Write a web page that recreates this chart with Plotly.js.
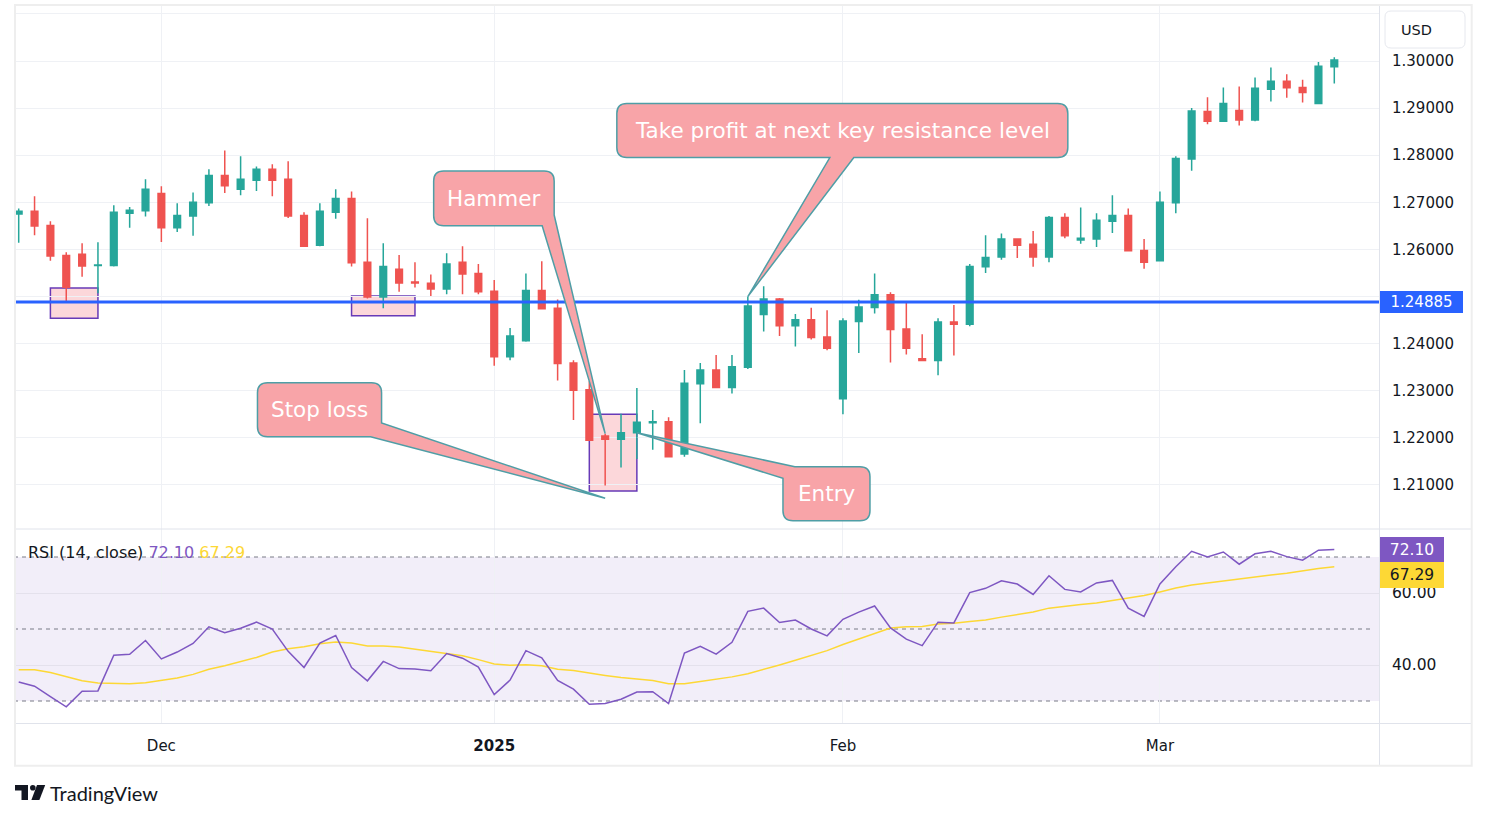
<!DOCTYPE html>
<html><head><meta charset="utf-8">
<script src="https://cdn.plot.ly/plotly-3.0.1.min.js"></script>
<style>html,body{margin:0;padding:0;background:#fff;overflow:hidden}#chart{width:1487px;height:819px}</style>
</head><body><div id="chart"></div>
<script>
// ---------------- DATA ----------------
const dates = [
 '2024-11-19','2024-11-20','2024-11-21','2024-11-22','2024-11-25','2024-11-26','2024-11-27','2024-11-28','2024-11-29',
 '2024-12-02','2024-12-03','2024-12-04','2024-12-05','2024-12-06','2024-12-09','2024-12-10','2024-12-11','2024-12-12','2024-12-13',
 '2024-12-16','2024-12-17','2024-12-18','2024-12-19','2024-12-20','2024-12-23','2024-12-24','2024-12-26','2024-12-27','2024-12-30','2024-12-31',
 '2025-01-02','2025-01-03','2025-01-06','2025-01-07','2025-01-08','2025-01-09','2025-01-10','2025-01-13','2025-01-14','2025-01-15','2025-01-16','2025-01-17',
 '2025-01-20','2025-01-21','2025-01-22','2025-01-23','2025-01-24','2025-01-27','2025-01-28','2025-01-29','2025-01-30','2025-01-31',
 '2025-02-03','2025-02-04','2025-02-05','2025-02-06','2025-02-07','2025-02-10','2025-02-11','2025-02-12','2025-02-13','2025-02-14',
 '2025-02-17','2025-02-18','2025-02-19','2025-02-20','2025-02-21','2025-02-24','2025-02-25','2025-02-26','2025-02-27','2025-02-28',
 '2025-03-03','2025-03-04','2025-03-05','2025-03-06','2025-03-07','2025-03-10','2025-03-11','2025-03-12','2025-03-13','2025-03-14','2025-03-17','2025-03-18'
];
const opens = [
 1.2675,1.2681,1.2651,1.2587,1.2590,1.2566,1.2566,1.2677,1.2682,1.2719,
 1.2646,1.2671,1.2699,1.2757,1.2728,1.2747,1.2770,1.2749,1.2672,1.2609,
 1.2679,1.2708,1.2573,1.2499,1.2558,1.2531,1.2528,1.2516,1.2573,1.2549,
 1.2511,1.2372,1.2406,1.2513,1.2475,1.2359,1.2302,1.2204,1.2197,1.2211,
 1.2232,1.2234,1.2166,1.2315,1.2344,1.2307,1.2350,1.2462,1.2495,1.2438,
 1.2451,1.2414,1.2283,1.2447,1.2477,1.2504,1.2431,1.2368,1.2364,1.2446,
 1.2441,1.2563,1.2584,1.2622,1.2611,1.2584,1.2668,1.2620,1.2622,1.2660,
 1.2672,1.2598,1.2576,1.2699,1.2792,1.2893,1.2872,1.2895,1.2875,1.2940,
 1.2957,1.2944,1.2910,1.2988
];
const highs = [
 1.2687,1.2713,1.2660,1.2594,1.2613,1.2615,1.2694,1.2690,1.2749,1.2734,
 1.2698,1.2721,1.2770,1.2810,1.2798,1.2776,1.2781,1.2787,1.2679,1.2698,
 1.2728,1.2723,1.2666,1.2613,1.2588,1.2573,1.2547,1.2592,1.2607,1.2569,
 1.2535,1.2433,1.2549,1.2575,1.2494,1.2365,1.2320,1.2209,1.2251,1.2306,
 1.2259,1.2244,1.2344,1.2359,1.2376,1.2376,1.2500,1.2522,1.2497,1.2463,
 1.2476,1.2471,1.2454,1.2493,1.2549,1.2509,1.2490,1.2420,1.2454,1.2482,
 1.2569,1.2630,1.2634,1.2623,1.2639,1.2671,1.2677,1.2689,1.2677,1.2715,
 1.2687,1.2622,1.2723,1.2798,1.2900,1.2923,1.2944,1.2946,1.2965,1.2986,
 1.2972,1.2960,1.2998,1.3008
];
const lows = [
 1.2614,1.2630,1.2576,1.2487,1.2542,1.2507,1.2564,1.2646,1.2670,1.2616,
 1.2637,1.2629,1.2692,1.2720,1.2715,1.2724,1.2713,1.2667,1.2605,1.2607,
 1.2665,1.2564,1.2496,1.2475,1.2510,1.2519,1.2501,1.2505,1.2505,1.2505,
 1.2353,1.2365,1.2404,1.2473,1.2322,1.2238,1.2194,1.2099,1.2137,1.2155,
 1.2175,1.2159,1.2160,1.2231,1.2306,1.2294,1.2346,1.2426,1.2416,1.2394,
 1.2409,1.2386,1.2250,1.2380,1.2464,1.2360,1.2377,1.2363,1.2333,1.2375,
 1.2437,1.2550,1.2578,1.2582,1.2563,1.2573,1.2624,1.2612,1.2605,1.2635,
 1.2596,1.2559,1.2575,1.2677,1.2767,1.2866,1.2871,1.2863,1.2872,1.2914,
 1.2922,1.2912,1.2909,1.2952
];
const closes = [
 1.2681,1.2650,1.2586,1.2520,1.2565,1.2567,1.2679,1.2683,1.2728,1.2646,
 1.2672,1.2700,1.2757,1.2735,1.2749,1.2770,1.2747,1.2671,1.2607,1.2681,
 1.2708,1.2572,1.2499,1.2564,1.2529,1.2529,1.2516,1.2569,1.2548,1.2510,
 1.2372,1.2416,1.2513,1.2474,1.2358,1.2301,1.2195,1.2197,1.2211,1.2233,
 1.2234,1.2160,1.2316,1.2344,1.2307,1.2351,1.2480,1.2495,1.2438,1.2451,
 1.2413,1.2390,1.2448,1.2478,1.2504,1.2430,1.2390,1.2364,1.2446,1.2441,
 1.2564,1.2583,1.2622,1.2609,1.2584,1.2668,1.2629,1.2624,1.2662,1.2672,
 1.2597,1.2573,1.2700,1.2793,1.2894,1.2872,1.2910,1.2875,1.2942,1.2957,
 1.2943,1.2933,1.2989,1.3002
];
const rsi = [
 35.3,34.1,31.2,28.4,32.7,32.8,42.7,43.0,46.8,41.7,
 43.6,46.0,50.6,49.0,50.2,51.9,50.0,43.8,39.3,46.1,
 48.2,39.3,35.6,41.0,39.0,38.9,38.4,43.2,41.9,39.4,
 31.8,35.8,44.0,42.0,35.7,33.3,29.1,29.3,30.5,32.5,
 32.6,29.3,43.3,45.2,43.0,46.3,54.9,55.8,51.8,52.5,
 50.0,48.1,52.7,54.7,56.4,50.3,47.2,45.4,51.9,51.7,
 60.1,61.3,63.4,62.5,59.6,64.8,61.0,60.3,62.8,63.5,
 55.8,53.5,62.5,67.3,71.6,70.0,71.4,68.0,70.9,71.6,
 70.1,69.1,71.9,72.10
];
const rsiMA = [
 38.7,38.65,37.9,36.8,35.6,35.0,34.8,34.8,35.1,35.7,
 36.4,37.4,38.8,39.8,40.9,42.1,43.6,44.5,45.1,45.9,
 46.4,46.1,45.3,45.3,45.0,44.4,43.6,43.1,42.6,41.5,
 40.3,39.9,40.1,39.8,38.8,38.5,37.7,37.1,36.5,36.0,
 35.7,34.8,34.8,35.4,36.0,36.7,37.6,38.7,40.0,41.3,
 42.7,44.0,45.7,47.3,48.8,50.3,50.6,50.7,51.4,51.6,
 52.1,52.5,53.3,54.0,54.7,55.8,56.4,56.8,57.2,57.9,
 58.7,59.3,60.3,61.4,62.2,62.8,63.3,63.8,64.5,65.0,
 65.5,66.2,66.8,67.29
];
const monthTickDates = ['2024-12-02','2025-01-02','2025-02-03','2025-03-03'];
const monthTickLabels = ['Dec','<b>2025</b>','Feb','Mar'];
const priceTicks = [1.21,1.22,1.23,1.24,1.25,1.26,1.27,1.28,1.29,1.30,1.31];
const priceTickLabels = ['1.21000','1.22000','1.23000','1.24000','','1.26000','1.27000','1.28000','1.29000','1.30000',''];
const rsiTicks = [40, 60];
const rsiTickLabels = ['40.00','60.00'];
const rsiLevels = [70, 50, 30];
const supportLevel = 1.24885;
const stopLevel = 1.2072;
const zoneFrom = ['2024-11-21','2024-12-18','2025-01-10'];
const zoneTo   = ['2024-11-26','2024-12-24','2025-01-15'];
const zoneLow  = [1.2454, 1.2459, 1.2087];
const zoneHigh = [1.2518, 1.2501, 1.2250];

// ---------------- LAYOUT HELPERS ----------------
const W = 1487, H = 819, M = {l:14, r:108, t:5, b:96};
const plotW = W - M.l - M.r, plotH = H - M.t - M.b;
const px = X => (X - M.l) / plotW;
const py = Y => (H - M.b - Y) / plotH;
const split = py(529);
const idx = d => dates.indexOf(d);
const xi = dates.map((d, i) => i);
const FONT = '"DejaVu Sans", Verdana, sans-serif';
const LOGO_FONT = 'Lato, "Liberation Sans", Arial, sans-serif';
const INK = '#131722';
const GREEN = '#26a69a', RED = '#ef5350';
const CALL_FILL = '#f8a4a8', CALL_LINE = '#4f9ea6';

const P = (x, y) => x.toFixed(1) + ',' + (-y).toFixed(1);
function calloutPath(l, t, r, b, tail) {
  const k = 10;
  const top = 'L' + P(r-k,t) + ' Q' + P(r,t) + ' ' + P(r,t+k);
  if (tail.type === 'bottom') {
    return 'M' + P(l+k,t) + ' ' + top + ' L' + P(r,b-k) + ' Q' + P(r,b) + ' ' + P(r-k,b) +
      ' L' + P(tail.xb,b) + ' L' + P(0,0) + ' L' + P(tail.xa,b) + ' L' + P(l+k,b) +
      ' Q' + P(l,b) + ' ' + P(l,b-k) + ' L' + P(l,t+k) + ' Q' + P(l,t) + ' ' + P(l+k,t) + ' Z';
  }
  if (tail.type === 'bottomRight') {
    return 'M' + P(l+k,t) + ' ' + top + ' L' + P(r,tail.y) + ' L' + P(0,0) + ' L' + P(tail.x,b) +
      ' L' + P(l+k,b) + ' Q' + P(l,b) + ' ' + P(l,b-k) + ' L' + P(l,t+k) + ' Q' + P(l,t) + ' ' + P(l+k,t) + ' Z';
  }
  return 'M' + P(tail.x,t) + ' ' + top + ' L' + P(r,b-k) + ' Q' + P(r,b) + ' ' + P(r-k,b) +
    ' L' + P(l+k,b) + ' Q' + P(l,b) + ' ' + P(l,b-k) + ' L' + P(l,tail.y) + ' L' + P(0,0) + ' Z';
}
function roundRect(w, h, k) {
  return 'M' + P(k,0) + ' L' + P(w-k,0) + ' Q' + P(w,0) + ' ' + P(w,k) + ' L' + P(w,h-k) + ' Q' + P(w,h) + ' ' + P(w-k,h) +
    ' L' + P(k,h) + ' Q' + P(0,h) + ' ' + P(0,h-k) + ' L' + P(0,k) + ' Q' + P(0,0) + ' ' + P(k,0) + ' Z';
}

const callouts = [
  {text:'Take profit at next key resistance level', x: idx('2025-01-24'), y: highs[idx('2025-01-24')],
   box:[-131,-193,320,-139], tail:{type:'bottom', xa:82, xb:106}},
  {text:'Hammer', x: idx('2025-01-13'), y: highs[idx('2025-01-13')],
   box:[-171.5,-262.6,-51,-207.9], tail:{type:'bottomRight', y:-218.6, x:-63}},
  {text:'Stop loss', x: idx('2025-01-13'), y: stopLevel,
   box:[-347.7,-115.5,-223.6,-61.5], tail:{type:'bottomRight', y:-75.2, x:-234.6}},
  {text:'Entry', x: idx('2025-01-15'), y: opens[idx('2025-01-15')],
   box:[146.1,34,233.1,88], tail:{type:'topLeft', x:158, y:45.6}}
];

// ---------------- TRACES ----------------
const traces = [
  {type:'candlestick', x: xi, open: opens, high: highs, low: lows, close: closes,
   xaxis:'x', yaxis:'y', hoverinfo:'none', whiskerwidth:0,
   increasing:{line:{color:GREEN, width:1.5}, fillcolor:GREEN},
   decreasing:{line:{color:RED, width:1.5}, fillcolor:RED}},
  {type:'scatter', mode:'lines', x: xi, y: rsiMA, xaxis:'x', yaxis:'y2', hoverinfo:'none',
   line:{color:'#fdd835', width:1.5}},
  {type:'scatter', mode:'lines', x: xi, y: rsi, xaxis:'x', yaxis:'y2', hoverinfo:'none',
   line:{color:'#7e57c2', width:1.5}}
];

// ---------------- SHAPES ----------------
const shapes = [];
shapes.push({type:'rect', xref:'x domain', yref:'y2', x0:0, x1:1, y0:rsiLevels[2], y1:rsiLevels[0],
  fillcolor:'rgba(126,87,194,0.1)', line:{width:0}, layer:'below'});
rsiLevels.forEach(v => shapes.push({type:'line', xref:'x domain', yref:'y2', x0:0, x1:0.995, y0:v, y1:v,
  line:{color:'#787b86', width:1, dash:'4px,4px'}, layer:'below'}));
zoneFrom.forEach((d, i) => shapes.push({type:'rect', xref:'x', yref:'y', x0:idx(d), x1:idx(zoneTo[i]),
  y0:zoneLow[i], y1:zoneHigh[i], fillcolor:'rgba(242,54,69,0.2)', line:{color:'#673ab7', width:1.5}, layer:'below'}));
shapes.push({type:'line', xref:'x domain', yref:'y', x0:0, x1:1, y0:supportLevel, y1:supportLevel,
  line:{color:'#2962ff', width:3}, layer:'above'});
callouts.forEach(c => {
  const [l,t,r,b] = c.box;
  shapes.push({type:'path', xref:'x', yref:'y', xsizemode:'pixel', ysizemode:'pixel', xanchor:c.x, yanchor:c.y,
    path: calloutPath(l,t,r,b,c.tail), fillcolor:CALL_FILL, line:{color:CALL_LINE, width:1.5}, layer:'above'});
});
const frameCol = '#e0e3eb';
shapes.push({type:'line', xref:'paper', yref:'paper', x0:px(15), x1:px(1472), y0:py(529), y1:py(529), line:{color:frameCol, width:1}});
shapes.push({type:'line', xref:'paper', yref:'paper', x0:px(15), x1:px(1472), y0:py(723.5), y1:py(723.5), line:{color:frameCol, width:1}});
shapes.push({type:'line', xref:'paper', yref:'paper', x0:px(1379.5), x1:px(1379.5), y0:py(5), y1:py(766), line:{color:frameCol, width:1}});
shapes.push({type:'rect', xref:'paper', yref:'paper', x0:px(15), x1:px(1471.7), y0:py(5), y1:py(765.7), line:{color:'#eeeeee', width:2}});
shapes.push({type:'path', xref:'paper', yref:'paper', xsizemode:'pixel', ysizemode:'pixel', xanchor:px(1385), yanchor:py(11),
  path: roundRect(80, 37, 6), fillcolor:'#ffffff', line:{color:'#e6e8ee', width:1}});
shapes.push({type:'path', xref:'paper', yref:'paper', xsizemode:'pixel', ysizemode:'pixel', xanchor:px(15), yanchor:py(785),
  path:'M' + P(0,0) + ' L' + P(13,0) + ' L' + P(13,15) + ' L' + P(6.5,15) + ' L' + P(6.5,5.5) + ' L' + P(0,5.5) + ' Z',
  fillcolor:INK, line:{width:0}});
shapes.push({type:'circle', xref:'paper', yref:'paper', xsizemode:'pixel', ysizemode:'pixel', xanchor:px(15), yanchor:py(785),
  x0:15, x1:20.6, y0:0, y1:-5.6, fillcolor:INK, line:{width:0}});
shapes.push({type:'path', xref:'paper', yref:'paper', xsizemode:'pixel', ysizemode:'pixel', xanchor:px(15), yanchor:py(785),
  path:'M' + P(22,0) + ' L' + P(30.2,0) + ' L' + P(24.4,15) + ' L' + P(16.4,15) + ' Z', fillcolor:INK, line:{width:0}});

// ---------------- ANNOTATIONS ----------------
const annotations = [];
callouts.forEach(c => {
  const [l,t,r,b] = c.box;
  annotations.push({xref:'x', yref:'y', x:c.x, y:c.y, xshift:(l+r)/2, yshift:-(t+b)/2, showarrow:false,
    text:c.text, font:{family:FONT, size:21.5, color:'#ffffff'}, xanchor:'center', yanchor:'middle'});
});
annotations.push({xref:'paper', yref:'y', x:px(1380), y:supportLevel, xanchor:'left', yanchor:'middle', showarrow:false,
  text:supportLevel.toFixed(5), bgcolor:'#2962ff', borderwidth:0, borderpad:3, width:77, height:16,
  font:{family:FONT, size:15, color:'#ffffff'}});
const lastRsi = rsi[rsi.length-1], lastMa = rsiMA[rsiMA.length-1];
annotations.push({xref:'paper', yref:'y2', x:px(1380), y:lastRsi, xanchor:'left', yanchor:'middle', showarrow:false,
  text:lastRsi.toFixed(2), bgcolor:'#7e57c2', borderwidth:0, borderpad:3, width:58, height:19,
  font:{family:FONT, size:15.5, color:'#ffffff'}});
annotations.push({xref:'paper', yref:'y2', x:px(1380), y:lastMa, yshift:-8.5, xanchor:'left', yanchor:'middle', showarrow:false,
  text:lastMa.toFixed(2), bgcolor:'#fdd835', borderwidth:0, borderpad:3, width:58, height:20,
  font:{family:FONT, size:15.5, color:INK}});
annotations.push({xref:'paper', yref:'paper', x:px(26), y:py(552), xanchor:'left', yanchor:'middle', showarrow:false,
  text:'RSI (14, close) <span style="color:#7e57c2">' + lastRsi.toFixed(2) + '</span> <span style="color:#fdd835">' + lastMa.toFixed(2) + '</span>',
  font:{family:FONT, size:16, color:INK}});
annotations.push({xref:'paper', yref:'paper', x:px(1399), y:py(30), xanchor:'left', yanchor:'middle', showarrow:false,
  text:'USD', font:{family:FONT, size:14.5, color:INK}});
annotations.push({xref:'paper', yref:'paper', x:px(48), y:py(793), xanchor:'left', yanchor:'middle', showarrow:false,
  text:'TradingView', font:{family:LOGO_FONT, size:20, color:INK}});

// ---------------- LAYOUT ----------------
const layout = {
  width:W, height:H, margin:M, paper_bgcolor:'#ffffff', plot_bgcolor:'#ffffff',
  font:{family:FONT, size:15, color:INK}, showlegend:false, hovermode:false, dragmode:false,
  boxgap:0.4,
  xaxis:{domain:[0,1], anchor:'y2', range:[-0.2965, 85.82], tickvals: monthTickDates.map(idx), ticktext: monthTickLabels,
    showgrid:true, gridcolor:'#eff1f5', zeroline:false, showline:false, ticks:'', ticklabelstandoff:12,
    rangeslider:{visible:false}, fixedrange:true, tickfont:{family:FONT, size:15, color:INK}},
  yaxis:{domain:[split,1], anchor:'x', range:[1.200658, 1.311887], side:'right', tickvals: priceTicks, ticktext: priceTickLabels,
    showgrid:true, gridcolor:'#eff1f5', zeroline:false, showline:false, ticks:'', ticklabelstandoff:12,
    fixedrange:true, tickfont:{family:FONT, size:15, color:INK}},
  yaxis2:{domain:[0,split], anchor:'x', range:[23.89, 77.78], side:'right', tickvals: rsiTicks, ticktext: rsiTickLabels,
    showgrid:true, gridcolor:'#e4e1ec', zeroline:false, showline:false, ticks:'', ticklabelstandoff:12,
    fixedrange:true, tickfont:{family:FONT, size:15.5, color:INK}},
  shapes, annotations
};
Plotly.newPlot('chart', traces, layout, {staticPlot:true, displayModeBar:false});
</script></body></html>
